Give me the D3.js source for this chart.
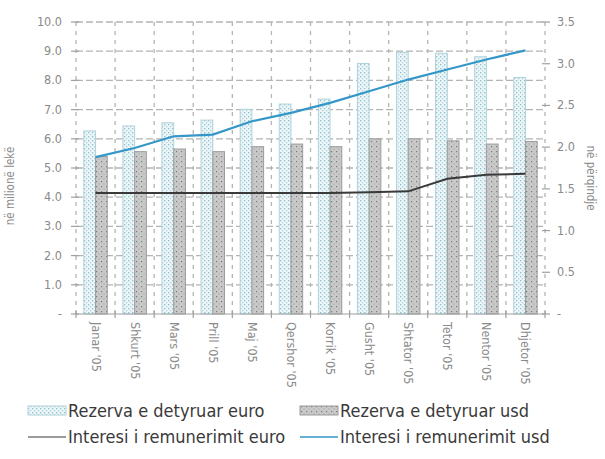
<!DOCTYPE html>
<html>
<head>
<meta charset="utf-8">
<script src="https://cdn.jsdelivr.net/npm/d3@7"></script>
<style>
  html, body { margin: 0; padding: 0; background: #fff; }
  svg { display: block; font-family: "DejaVu Sans", sans-serif; font-stretch: condensed; }
</style>
</head>
<body>
<svg id="chart" width="605" height="459"></svg>
<script>
// Months of 2005
const months = ["Janar '05", "Shkurt '05", "Mars '05", "Prill '05", "Maj '05", "Qershor '05",
                "Korrik '05", "Gusht '05", "Shtator '05", "Tetor '05", "Nentor '05", "Dhjetor '05"];

// Required reserves, million lekë (left axis)
const reserveEuro = [6.27, 6.44, 6.55, 6.64, 7.01, 7.19, 7.36, 8.58, 8.96, 8.93, 8.81, 8.10];
const reserveUsd  = [5.39, 5.56, 5.65, 5.56, 5.73, 5.82, 5.73, 6.00, 6.00, 5.93, 5.82, 5.91];

// Remuneration rates, percent (right axis)
const rateEuro = [1.45, 1.45, 1.45, 1.45, 1.45, 1.45, 1.45, 1.46, 1.47, 1.62, 1.67, 1.68];
const rateUsd  = [1.88, 1.99, 2.13, 2.15, 2.31, 2.41, 2.53, 2.67, 2.81, 2.93, 3.05, 3.16];

// Axis ticks
const leftTicks  = [0, 1, 2, 3, 4, 5, 6, 7, 8, 9, 10];
const rightTicks = [0, 0.5, 1, 1.5, 2, 2.5, 3, 3.5];

const legendLabels = ["Rezerva e detyruar euro", "Rezerva e detyruar usd",
                      "Interesi i remunerimit euro", "Interesi i remunerimit usd"];

const svg = d3.select("#chart");
const plot = { left: 76, right: 545, top: 22, bottom: 314 };

const x = d3.scaleBand().domain(months).range([plot.left, plot.right]).padding(0);
const yL = d3.scaleLinear().domain([0, 10]).range([plot.bottom, plot.top]);
const yR = d3.scaleLinear().domain([0, 3.5]).range([plot.bottom, plot.top]);

const fmt = v => v === 0 ? "-" : d3.format(".1f")(v);

// Fill patterns for the two bar series
const defs = svg.append("defs");
const pEuro = defs.append("pattern").attr("id", "pEuro")
  .attr("patternUnits", "userSpaceOnUse").attr("width", 4).attr("height", 4);
pEuro.append("rect").attr("width", 4).attr("height", 4).attr("fill", "#eef5f7");
pEuro.append("rect").attr("x", 0).attr("y", 0).attr("width", 1.3).attr("height", 1.3).attr("fill", "#86c4d2");
pEuro.append("rect").attr("x", 2).attr("y", 2).attr("width", 1.3).attr("height", 1.3).attr("fill", "#a9d6de");

const pUsd = defs.append("pattern").attr("id", "pUsd")
  .attr("patternUnits", "userSpaceOnUse").attr("width", 5).attr("height", 5);
pUsd.append("rect").attr("width", 5).attr("height", 5).attr("fill", "#c9c9c9");
pUsd.append("rect").attr("x", 1).attr("y", 1).attr("width", 1.2).attr("height", 1.2).attr("fill", "#7a7a7a");
pUsd.append("rect").attr("x", 3.5).attr("y", 3.5).attr("width", 1).attr("height", 1).attr("fill", "#9a9a9a");

// Grid
const grid = svg.append("g").attr("stroke", "#b4b4b4").attr("stroke-width", 1.3).attr("fill", "none");
grid.selectAll("line.h").data(leftTicks.filter(d => d > 0)).join("line")
  .attr("x1", plot.left).attr("x2", plot.right)
  .attr("y1", d => yL(d)).attr("y2", d => yL(d))
  .attr("stroke-dasharray", "7,3");
const bounds = months.map(m => x(m)).concat([plot.right]);
grid.selectAll("line.v").data(bounds).join("line")
  .attr("x1", d => d).attr("x2", d => d)
  .attr("y1", plot.top).attr("y2", plot.bottom)
  .attr("stroke-dasharray", "4,5");

// Bars
const bw = x.bandwidth();
const barW = bw * 0.3;
const bars = svg.append("g");
bars.selectAll("rect.euro").data(months).join("rect")
  .attr("x", d => x(d) + bw / 2 - barW)
  .attr("y", (d, i) => yL(reserveEuro[i]))
  .attr("width", barW)
  .attr("height", (d, i) => yL(0) - yL(reserveEuro[i]))
  .attr("fill", "url(#pEuro)").attr("stroke", "#b0d2da").attr("stroke-width", 1);
bars.selectAll("rect.usd").data(months).join("rect")
  .attr("x", d => x(d) + bw / 2)
  .attr("y", (d, i) => yL(reserveUsd[i]))
  .attr("width", barW)
  .attr("height", (d, i) => yL(0) - yL(reserveUsd[i]))
  .attr("fill", "url(#pUsd)").attr("stroke", "#9c9c9c").attr("stroke-width", 1);

// Axes
const axisCol = "#a0a0a0";
const axes = svg.append("g").attr("stroke", axisCol).attr("stroke-width", 1.2);
axes.append("line").attr("x1", plot.left).attr("x2", plot.right)
  .attr("y1", plot.bottom).attr("y2", plot.bottom);
axes.selectAll("line.bt").data(bounds).join("line")
  .attr("x1", d => d).attr("x2", d => d)
  .attr("y1", plot.bottom - 3).attr("y2", plot.bottom + 4);
axes.selectAll("line.lt").data(leftTicks).join("line")
  .attr("x1", plot.left - 5).attr("x2", plot.left + 3)
  .attr("y1", d => yL(d)).attr("y2", d => yL(d));
axes.selectAll("line.rt").data(rightTicks).join("line")
  .attr("x1", plot.right - 3).attr("x2", plot.right + 5)
  .attr("y1", d => yR(d)).attr("y2", d => yR(d));

// Lines
const rateLine = d3.line().x((d, i) => x(months[i]) + bw / 2).y(d => yR(d));
svg.append("path").datum(rateEuro).attr("d", rateLine)
  .attr("fill", "none").attr("stroke", "#3a3a3a").attr("stroke-width", 2);
svg.append("path").datum(rateUsd).attr("d", rateLine)
  .attr("fill", "none").attr("stroke", "#3497c8").attr("stroke-width", 2.2);

// Tick labels
const txtCol = "#8a8a8a";
svg.append("g").selectAll("text").data(leftTicks).join("text")
  .attr("x", 62).attr("y", d => yL(d) + 4)
  .attr("text-anchor", "end").attr("font-size", 12.5).attr("fill", txtCol)
  .text(fmt);
svg.append("g").selectAll("text").data(rightTicks).join("text")
  .attr("x", 557).attr("y", d => yR(d) + 4)
  .attr("text-anchor", "start").attr("font-size", 12.5).attr("fill", txtCol)
  .text(fmt);
svg.append("g").selectAll("text").data(months).join("text")
  .attr("transform", d => `translate(${x(d) + bw / 2 - 4},${plot.bottom + 8}) rotate(90)`)
  .attr("text-anchor", "start").attr("font-size", 12.5).attr("fill", txtCol)
  .text(d => d);

// Axis titles
svg.append("text")
  .attr("transform", "translate(14,186) rotate(-90)")
  .attr("text-anchor", "middle").attr("font-size", 11.5).attr("fill", txtCol)
  .text("në milionë lekë");
svg.append("text")
  .attr("transform", "translate(587,178) rotate(90)")
  .attr("text-anchor", "middle").attr("font-size", 11.5).attr("fill", txtCol)
  .text("në përqindje");

// Legend
const legend = svg.append("g");
const legendPos = [[28, 411], [300, 411], [28, 437], [300, 437]];
legendLabels.forEach((lab, i) => {
  const [lx, ly] = legendPos[i];
  const g = legend.append("g");
  if (i < 2) {
    g.append("rect").attr("x", lx).attr("y", ly - 5).attr("width", 38).attr("height", 9)
      .attr("fill", i === 0 ? "url(#pEuro)" : "url(#pUsd)")
      .attr("stroke", i === 0 ? "#b0d2da" : "#9c9c9c");
  } else {
    g.append("line").attr("x1", lx).attr("x2", lx + 38).attr("y1", ly).attr("y2", ly)
      .attr("stroke", i === 2 ? "#7a7a7a" : "#3497c8").attr("stroke-width", 1.6);
  }
  g.append("text").attr("x", lx + 40).attr("y", ly + 6)
    .attr("font-size", 18).attr("fill", "#3a3a3a").text(lab);
});
</script>
</body>
</html>
